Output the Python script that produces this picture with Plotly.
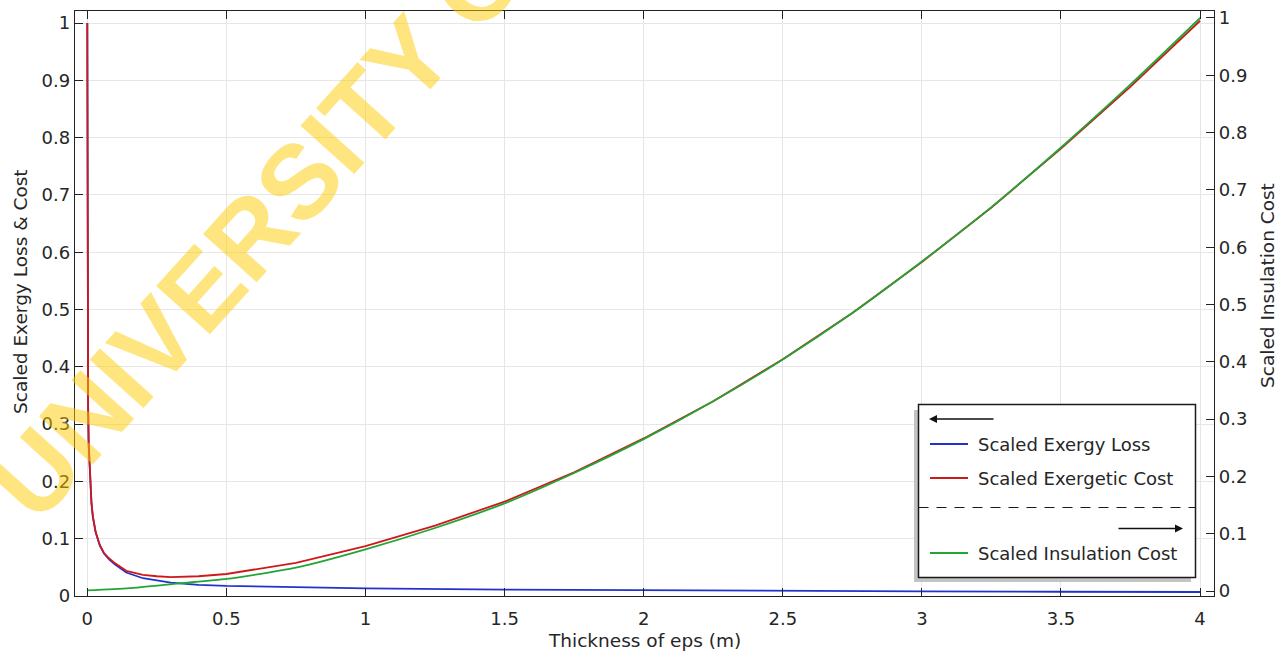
import plotly.graph_objects as go

# ---------------- data ----------------
x_loss = [0, 0.0005, 0.001, 0.002, 0.003, 0.005, 0.0075, 0.01, 0.015, 0.02, 0.03,
          0.045, 0.06, 0.08, 0.1, 0.14, 0.2, 0.3, 0.4, 0.5, 0.75, 1.0, 1.5, 2.0,
          2.5, 3.0, 3.5, 4.0]
exergy_loss = [1.0, 0.78, 0.62, 0.45, 0.33, 0.265, 0.23, 0.2, 0.162, 0.138, 0.111,
               0.088, 0.074, 0.063, 0.055, 0.041, 0.031, 0.0235, 0.0195, 0.0175,
               0.015, 0.0134, 0.0113, 0.0098, 0.0088, 0.008, 0.0074, 0.007]

x_cost = [0, 0.0005, 0.001, 0.002, 0.003, 0.005, 0.0075, 0.01, 0.015, 0.02, 0.03,
          0.045, 0.06, 0.08, 0.1, 0.14, 0.2, 0.25, 0.3, 0.4, 0.5, 0.75, 1.0, 1.25,
          1.5, 1.75, 2.0, 2.25, 2.5, 2.75, 3.0, 3.25, 3.5, 3.75, 4.0]
exergetic_cost = [1.0, 0.78, 0.62, 0.45, 0.33, 0.265, 0.23, 0.2, 0.162, 0.139, 0.112,
                  0.089, 0.075, 0.065, 0.057, 0.044, 0.037, 0.0345, 0.033, 0.0345,
                  0.0384, 0.058, 0.087, 0.123, 0.1646, 0.216, 0.275, 0.340, 0.413,
                  0.494, 0.583, 0.678, 0.781, 0.889, 1.004]

x_ins = [0, 0.15, 0.33, 0.5, 0.75, 1.0, 1.25, 1.5, 1.75, 2.0, 2.25, 2.5, 2.75,
         3.0, 3.25, 3.5, 3.75, 4.0]
insulation_cost = [0.001, 0.005, 0.0134, 0.021, 0.0407, 0.0727, 0.110, 0.153, 0.206,
                   0.265, 0.331, 0.404, 0.485, 0.575, 0.670, 0.774, 0.884, 1.0]

x_ticks = [0, 0.5, 1, 1.5, 2, 2.5, 3, 3.5, 4]
x_tick_text = ["0", "0.5", "1", "1.5", "2", "2.5", "3", "3.5", "4"]
y_ticks = [0, 0.1, 0.2, 0.3, 0.4, 0.5, 0.6, 0.7, 0.8, 0.9, 1]
y_tick_text = ["0", "0.1", "0.2", "0.3", "0.4", "0.5", "0.6", "0.7", "0.8", "0.9", "1"]

x_title = "Thickness of eps (m)"
y_title = "Scaled Exergy Loss & Cost"
y2_title = "Scaled Insulation Cost"
legend_left = ["Scaled Exergy Loss", "Scaled Exergetic Cost"]
legend_right = ["Scaled Insulation Cost"]

BLUE = "#2233cc"
RED = "#cc1a1a"
GREEN = "#22a535"
FONT = "DejaVu Sans"
TXT = "#262626"

W, H = 1283, 651
L, R, T, B = 75, 69, 11, 55
PW, PH = W - L - R, H - T - B


def px(xp):
    return (xp - L) / PW


def py(yp):
    return (H - B - yp) / PH


fig = go.Figure()
fig.add_trace(go.Scatter(x=x_loss, y=exergy_loss, mode="lines", name=legend_left[0],
                         line=dict(color=BLUE, width=1.8), yaxis="y"))
fig.add_trace(go.Scatter(x=x_ins, y=insulation_cost, mode="lines", name=legend_right[0],
                         line=dict(color=GREEN, width=1.8, shape="spline", smoothing=0.6),
                         yaxis="y2"))
fig.add_trace(go.Scatter(x=x_cost, y=exergetic_cost, mode="lines", name=legend_left[1],
                         line=dict(color=RED, width=1.8), yaxis="y"))

shapes = []
annotations = []

# legend shadow and box
shapes.append(dict(type="rect", xref="paper", yref="paper",
                   x0=px(914), x1=px(1191), y0=py(582), y1=py(410),
                   fillcolor="#c4c4c4", line=dict(width=0), layer="above"))
shapes.append(dict(type="rect", xref="paper", yref="paper",
                   x0=px(918.5), x1=px(1195.5), y0=py(577.5), y1=py(404.5),
                   fillcolor="white", line=dict(color="#1a1a1a", width=1.5), layer="above"))
# dashed separator
shapes.append(dict(type="line", xref="paper", yref="paper",
                   x0=px(918.5), x1=px(1195.5), y0=py(507.5), y1=py(507.5),
                   line=dict(color="#1a1a1a", width=1.2, dash="10px,8px"), layer="above"))
# sample lines
for yy, col in [(444, BLUE), (478, RED), (553, GREEN)]:
    shapes.append(dict(type="line", xref="paper", yref="paper",
                       x0=px(930), x1=px(968), y0=py(yy), y1=py(yy),
                       line=dict(color=col, width=1.8), layer="above"))
# legend texts
for yy, txt in [(444, legend_left[0]), (478, legend_left[1]), (553, legend_right[0])]:
    annotations.append(dict(x=px(976), y=py(yy), xref="paper", yref="paper",
                            text=txt, showarrow=False, xanchor="left", yanchor="middle",
                            font=dict(family=FONT, size=18, color=TXT)))
# axis arrows in legend
annotations.append(dict(x=px(929), y=py(419), xref="paper", yref="paper", text="",
                        showarrow=True, ax=66, ay=0, axref="pixel", ayref="pixel",
                        arrowhead=2, arrowsize=1, arrowwidth=1.6, arrowcolor="#111"))
annotations.append(dict(x=px(1183), y=py(528.5), xref="paper", yref="paper", text="",
                        showarrow=True, ax=-66, ay=0, axref="pixel", ayref="pixel",
                        arrowhead=2, arrowsize=1, arrowwidth=1.6, arrowcolor="#111"))

# axis titles
title_font = dict(family=FONT, size=18.5, color=TXT)
annotations.append(dict(x=px(644.5), y=py(640), xref="paper", yref="paper",
                        text=x_title, showarrow=False, xanchor="center",
                        yanchor="middle", font=title_font))
annotations.append(dict(x=px(20), y=py(292), xref="paper", yref="paper",
                        text=y_title, showarrow=False, xanchor="center",
                        yanchor="middle", textangle=-90, font=title_font))
annotations.append(dict(x=px(1267), y=py(286), xref="paper", yref="paper",
                        text=y2_title, showarrow=False, xanchor="center",
                        yanchor="middle", textangle=-90, font=title_font))

# watermark
annotations.append(dict(x=px(503), y=py(-45), xref="paper", yref="paper",
                        text="<b>UNIVERSITY OF CAPE TOWN</b>", showarrow=False,
                        xanchor="center", yanchor="middle", textangle=-48,
                        font=dict(family="Liberation Sans", size=105,
                                  color="rgba(255,204,0,0.5)")))

axis_common = dict(ticks="inside", ticklen=8, tickwidth=1, tickcolor="#222",
                   showline=True, linecolor="#222", linewidth=1.3,
                   tickfont=dict(family=FONT, size=18, color=TXT),
                   zeroline=False, automargin=False)

fig.update_layout(
    width=W, height=H,
    margin=dict(l=L, r=R, t=T, b=B, pad=0, autoexpand=False),
    paper_bgcolor="white", plot_bgcolor="white",
    showlegend=False,
    font=dict(family=FONT, size=18, color=TXT),
    xaxis=dict(range=[-0.0442, 4.050], tickvals=x_ticks, ticktext=x_tick_text,
               showgrid=True, gridcolor="#e6e6e6", gridwidth=1, mirror="ticks",
               ticklabelstandoff=6, **axis_common),
    yaxis=dict(range=[0, 1.021], tickvals=y_ticks, ticktext=y_tick_text,
               showgrid=True, gridcolor="#e6e6e6", gridwidth=1, mirror=False,
               **axis_common),
    yaxis2=dict(range=[-0.0087, 1.0122], tickvals=y_ticks, ticktext=y_tick_text,
                overlaying="y", side="right", showgrid=False, **axis_common),
    shapes=shapes,
    annotations=annotations,
)

fig.write_html("out.html")
